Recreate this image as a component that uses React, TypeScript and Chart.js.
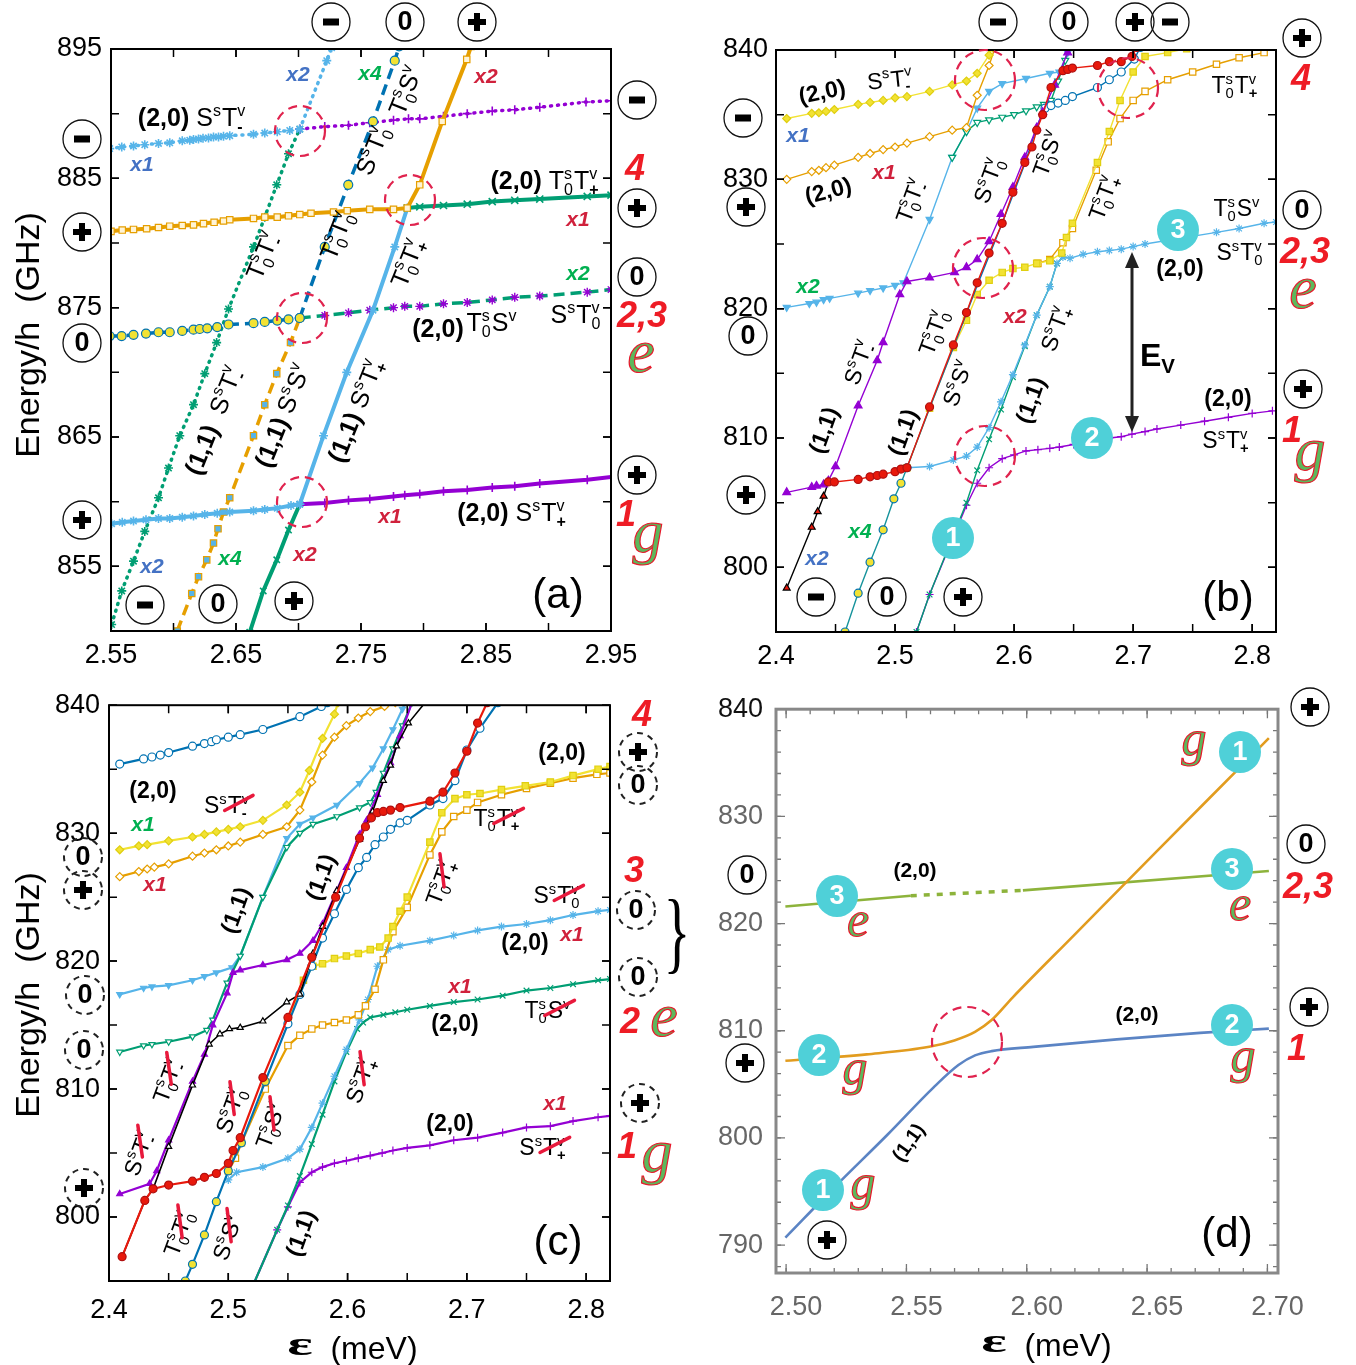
import React, { useEffect, useRef } from 'react';
import { Chart, registerables } from 'chart.js';
Chart.register(...registerables);

type P = [number, number];
const F = '"Liberation Sans", Arial, Helvetica, sans-serif';
const SERIF = '"Liberation Serif", "DejaVu Serif", serif';

// ---------- Panel (a) ----------
const aXTicks = ['2.55', '2.65', '2.75', '2.85', '2.95'];
const aYTicks = ['855', '865', '875', '885', '895'];
const aSTm_x1: P[] = [[2.549,887.3],[2.5586,887.43],[2.568,887.5],[2.577,887.6],[2.588,887.7],[2.597,887.75],[2.607,887.9],[2.613,887.95],[2.616,888.0],[2.62,888.05],[2.6236,888.1],[2.628,888.12],[2.632,888.2],[2.636,888.2],[2.64,888.25],[2.645,888.3],[2.664,888.4],[2.673,888.5],[2.683,888.6],[2.693,888.7],[2.701,888.8]];
const aSTm_hi: P[] = [[2.701,888.8],[2.721,889.0],[2.74,889.1],[2.757,889.3],[2.776,889.5],[2.788,889.6],[2.797,889.6],[2.816,889.8],[2.835,890.0],[2.855,890.2],[2.873,890.3],[2.893,890.5],[2.93,890.9],[2.95,891.0]];
const aSTm_x2: P[] = [[2.701,888.8],[2.7226,894.1],[2.7265,895.1]];
const aSTm_11: P[] = [[2.5505,850.5],[2.5586,853.1],[2.568,855.4],[2.577,857.7],[2.588,860.3],[2.596,862.6],[2.605,865.1],[2.616,867.5],[2.625,869.9],[2.6345,872.3],[2.644,874.9],[2.664,879.7],[2.673,882.0],[2.6826,884.5],[2.692,886.9],[2.701,888.8]];
const aT0Tp_20: P[] = [[2.55,880.9],[2.559,881.0],[2.568,881.05],[2.5785,881.1],[2.588,881.2],[2.597,881.3],[2.607,881.35],[2.616,881.4],[2.624,881.5],[2.6325,881.6],[2.64,881.7],[2.645,881.8],[2.664,881.9],[2.673,882.0],[2.683,882.0],[2.692,882.1],[2.701,882.2],[2.71,882.3],[2.728,882.4],[2.739,882.5],[2.757,882.6],[2.776,882.6],[2.787,882.7],[2.797,884.5],[2.815,889.4],[2.8346,894.2],[2.838,895.2]];
const aT0Tp_hi: P[] = [[2.787,882.7],[2.797,882.8],[2.816,882.9],[2.835,883.0],[2.855,883.2],[2.873,883.3],[2.893,883.4],[2.931,883.6],[2.95,883.7]];
const aT0Tp_11: P[] = [[2.701,859.8],[2.72,865.1],[2.7386,870.0],[2.7596,874.8],[2.777,879.7],[2.787,882.7]];
const aSTp_x1: P[] = [[2.5505,858.3],[2.559,858.4],[2.568,858.5],[2.578,858.6],[2.588,858.7],[2.597,858.7],[2.607,858.8],[2.616,858.9],[2.625,859.0],[2.635,859.1],[2.645,859.2],[2.664,859.3],[2.673,859.4],[2.683,859.5],[2.694,859.7],[2.701,859.8]];
const aSTp_hi: P[] = [[2.701,859.8],[2.721,859.9],[2.74,860.1],[2.757,860.2],[2.776,860.4],[2.785,860.5],[2.797,860.6],[2.816,860.8],[2.835,860.9],[2.855,861.1],[2.873,861.2],[2.893,861.4],[2.931,861.7],[2.95,861.9]];
const aSTp_x2: P[] = [[2.661,849.9],[2.6718,853.1],[2.6826,855.5],[2.692,857.8],[2.701,859.8]];
const aT0S_20: P[] = [[2.549,872.8],[2.5585,872.8],[2.568,872.9],[2.578,873.0],[2.588,873.1],[2.597,873.1],[2.607,873.2],[2.616,873.3],[2.621,873.35],[2.627,873.4],[2.635,873.5],[2.644,873.7],[2.664,873.8],[2.673,873.9],[2.683,874.0],[2.692,874.1],[2.701,874.2]];
const aT0S_hi: P[] = [[2.701,874.2],[2.721,874.4],[2.74,874.6],[2.757,874.8],[2.776,875.0],[2.785,875.1],[2.797,875.1],[2.816,875.3],[2.835,875.4],[2.855,875.6],[2.873,875.8],[2.893,875.9],[2.931,876.2],[2.95,876.4]];
const aT0S_x4: P[] = [[2.701,874.2],[2.721,879.7],[2.7398,884.5],[2.7596,889.4],[2.777,894.1],[2.7805,895.2]];
const aSS_11: P[] = [[2.603,850.0],[2.6146,852.9],[2.62,854.2],[2.6266,855.5],[2.632,856.8],[2.6356,857.9],[2.64,859.2],[2.645,860.3],[2.664,865.1],[2.673,867.5],[2.6826,869.9],[2.6936,872.3],[2.701,874.2]];

// ---------- Panel (b) ----------
const bXTicks = ['2.4', '2.5', '2.6', '2.7', '2.8'];
const bYTicks = ['800', '810', '820', '830', '840'];
const bSTm_20: P[] = [[2.409,834.7],[2.43,835.1],[2.436,835.15],[2.442,835.25],[2.449,835.4],[2.469,835.8],[2.479,835.95],[2.49,836.1],[2.5,836.3],[2.51,836.4],[2.529,836.8],[2.548,837.3],[2.56,837.6],[2.569,838.2],[2.579,839.6],[2.582,840.2]];
const bT0Tm_20: P[] = [[2.409,830.0],[2.43,830.6],[2.436,830.7],[2.442,830.9],[2.449,831.1],[2.469,831.7],[2.479,832.0],[2.49,832.3],[2.5,832.5],[2.51,832.8],[2.529,833.3],[2.548,833.8],[2.56,834.0],[2.569,836.5],[2.579,838.8],[2.584,840.2]];
const bT0Tm_x2: P[] = [[2.409,820.1],[2.428,820.4],[2.434,820.5],[2.44,820.7],[2.445,820.8],[2.469,821.2],[2.479,821.4],[2.49,821.6],[2.5,821.8],[2.507,822.0],[2.529,826.9],[2.548,831.7],[2.56,833.7],[2.569,835.5],[2.579,836.8],[2.59,837.4],[2.61,837.8],[2.63,838.2],[2.638,838.3],[2.645,839.8],[2.646,840.2]];
const bT0Tm_hi: P[] = [[2.548,831.7],[2.56,833.7],[2.569,834.4],[2.579,834.6],[2.59,834.8],[2.6,835.0],[2.61,835.3],[2.619,835.6],[2.625,835.8],[2.631,836.1],[2.637,837.6],[2.643,839.2],[2.646,840.2]];
const bSTm_11: P[] = [[2.409,805.8],[2.43,806.2],[2.434,806.3],[2.44,806.4],[2.444,806.7],[2.45,807.8],[2.469,812.5],[2.485,816.0],[2.49,817.4],[2.504,821.1],[2.51,822.1],[2.529,822.4],[2.55,822.8],[2.56,823.2],[2.569,823.8],[2.579,825.2],[2.589,827.3],[2.599,829.4],[2.609,831.7],[2.619,834.0],[2.624,835.2],[2.634,837.3],[2.645,839.8],[2.647,840.2]];
const bSTm_x2: P[] = [[2.409,798.4],[2.43,803.1],[2.435,804.3],[2.44,805.5],[2.444,806.6]];
const bST0_11: P[] = [[2.444,806.6],[2.449,806.6],[2.469,806.8],[2.479,807.0],[2.485,807.1],[2.49,807.2],[2.5,807.4],[2.505,807.6],[2.51,807.7],[2.529,812.4],[2.549,817.2],[2.56,819.7],[2.569,822.0],[2.579,824.3],[2.59,826.6],[2.599,829.0],[2.609,831.3],[2.615,832.5],[2.619,833.8],[2.624,835.0],[2.631,837.1],[2.641,838.4],[2.645,838.5],[2.649,838.6],[2.67,838.8],[2.68,839.1],[2.69,839.1],[2.699,839.5],[2.703,840.2]];
const bT0S_x4: P[] = [[2.458,795.0],[2.469,798.0],[2.479,800.4],[2.49,802.9],[2.499,805.3],[2.505,806.5],[2.51,807.7]];
const bT0S_11: P[] = [[2.51,807.7],[2.529,812.3],[2.549,817.0],[2.569,821.8],[2.59,826.6],[2.609,831.2],[2.62,834.3],[2.626,835.5]];
const bT0S_hi: P[] = [[2.626,835.5],[2.631,835.7],[2.637,835.9],[2.643,836.1],[2.649,836.4],[2.67,837.1],[2.68,837.7],[2.69,838.3],[2.701,839.3],[2.706,840.2]];
const bT0Tp_11: P[] = [[2.51,807.7],[2.529,812.3],[2.549,817.0],[2.56,819.1],[2.569,821.1],[2.579,822.2],[2.59,822.8],[2.599,823.1],[2.609,823.2],[2.619,823.5],[2.63,823.7],[2.64,824.3],[2.644,825.5],[2.649,826.6],[2.67,831.3],[2.68,833.7],[2.689,836.1],[2.7,838.3],[2.71,839.5],[2.729,839.8],[2.745,840.1]];
const bT0Tp_20: P[] = [[2.62,823.5],[2.63,823.8],[2.641,825.1],[2.649,826.2],[2.669,830.7],[2.679,832.9],[2.689,834.7],[2.7,836.1],[2.71,836.8],[2.729,837.7],[2.75,838.3],[2.77,838.9],[2.789,839.4],[2.81,839.8]];
const bT0S_20: P[] = [[2.51,807.7],[2.529,807.8],[2.549,808.3],[2.56,808.6],[2.569,809.3],[2.579,810.8],[2.589,812.8],[2.599,814.9],[2.609,817.2],[2.619,819.5],[2.63,821.7],[2.636,823.5],[2.641,824.0],[2.647,823.9],[2.658,824.2],[2.67,824.4],[2.68,824.5],[2.69,824.6],[2.7,824.8],[2.71,825.0],[2.77,825.9],[2.789,826.2],[2.81,826.6],[2.82,826.7]];
const bSTp_x2: P[] = [[2.518,795.0],[2.529,797.9],[2.56,805.0],[2.569,807.5],[2.579,809.9],[2.589,812.2],[2.599,814.7],[2.609,817.1],[2.619,819.5],[2.63,821.7],[2.636,823.5],[2.641,824.0]];
const bSTp_20: P[] = [[2.518,795.0],[2.529,797.9],[2.56,804.8],[2.569,806.5],[2.579,807.7],[2.59,808.4],[2.6,808.7],[2.61,809.0],[2.62,809.1],[2.63,809.2],[2.638,809.3],[2.65,809.5],[2.66,809.6],[2.67,809.8],[2.68,810.0],[2.69,810.1],[2.699,810.3],[2.71,810.5],[2.72,810.7],[2.74,811.0],[2.76,811.3],[2.78,811.6],[2.8,811.9],[2.817,812.1]];

// ---------- Panel (c) ----------
const cXTicks = ['2.4', '2.5', '2.6', '2.7', '2.8'];
const cYTicks = ['800', '810', '820', '830', '840'];
const cTop_blue: P[] = [[2.409,835.4],[2.429,835.8],[2.436,835.95],[2.443,836.1],[2.45,836.3],[2.47,836.8],[2.48,837.0],[2.486,837.15],[2.49,837.3],[2.5,837.5],[2.51,837.7],[2.529,838.1],[2.56,839.1],[2.578,839.9],[2.583,840.2]];
const cSTm_yel: P[] = [[2.409,828.7],[2.425,829.0],[2.432,829.1],[2.45,829.4],[2.47,829.7],[2.48,829.9],[2.49,830.1],[2.5,830.3],[2.51,830.5],[2.529,831.0],[2.549,832.2],[2.56,833.2],[2.568,834.9],[2.579,837.4],[2.589,839.3],[2.592,840.2]];
const cSTm_or: P[] = [[2.409,826.6],[2.425,827.0],[2.432,827.2],[2.438,827.35],[2.45,827.6],[2.47,828.2],[2.48,828.45],[2.49,828.7],[2.5,829.0],[2.51,829.3],[2.529,829.9],[2.549,830.5],[2.56,831.8],[2.57,834.0],[2.579,836.1],[2.589,837.5],[2.599,838.4],[2.609,839.0],[2.619,839.5],[2.631,839.9],[2.64,840.2]];
const cT0Tm_lb: P[] = [[2.409,817.4],[2.429,817.9],[2.436,818.0],[2.45,818.1],[2.47,818.5],[2.48,818.8],[2.49,819.1],[2.503,819.5],[2.51,820.4],[2.529,825.0],[2.549,829.6],[2.56,830.7],[2.571,831.2],[2.591,832.2],[2.61,833.9],[2.621,835.1],[2.63,836.6],[2.638,838.1],[2.646,839.7],[2.648,840.2]];
const cT0Tm_gr: P[] = [[2.409,812.9],[2.429,813.4],[2.436,813.5],[2.45,813.7],[2.47,814.1],[2.482,814.6],[2.487,815.4],[2.499,818.3],[2.51,820.4],[2.529,825.0],[2.549,828.9],[2.56,830.0],[2.571,830.7],[2.591,831.3],[2.61,832.0],[2.619,832.4],[2.624,833.2],[2.63,834.7],[2.638,836.6],[2.646,838.4],[2.654,840.2]];
const cSTm_pu: P[] = [[2.409,801.8],[2.434,802.6],[2.44,803.6],[2.45,806.0],[2.47,810.6],[2.48,812.7],[2.487,815.0],[2.499,817.5],[2.504,819.1],[2.51,819.3],[2.529,819.7],[2.549,820.1],[2.56,820.6],[2.571,821.6],[2.579,822.9],[2.591,825.5],[2.599,827.3],[2.61,829.9],[2.616,831.0],[2.625,833.0],[2.636,835.5],[2.644,837.6],[2.654,840.2]];
const cT0T0_bk: P[] = [[2.411,796.9],[2.43,801.3],[2.437,802.2],[2.45,805.5],[2.47,810.3],[2.484,813.5],[2.493,814.3],[2.501,814.7],[2.51,814.8],[2.529,815.3],[2.549,816.8],[2.56,817.4],[2.571,820.6],[2.579,822.7],[2.591,825.5],[2.61,829.5],[2.621,831.7],[2.63,834.1],[2.636,835.3],[2.641,836.8],[2.651,838.6],[2.665,840.2]];
const cST0_rd: P[] = [[2.411,796.9],[2.43,801.3],[2.437,802.2],[2.45,802.5],[2.47,802.8],[2.48,803.1],[2.49,803.4],[2.5,804.2],[2.504,805.2],[2.51,806.2],[2.529,810.9],[2.55,815.6],[2.57,820.3],[2.59,825.0],[2.61,829.6],[2.615,830.5],[2.62,831.2],[2.625,831.6],[2.63,831.7],[2.636,831.8],[2.644,832.0],[2.669,832.5],[2.68,833.2],[2.69,834.7],[2.7,836.4],[2.709,838.6],[2.717,840.2]];
const cT0S_bl: P[] = [[2.464,795.0],[2.47,796.3],[2.48,798.6],[2.49,801.2],[2.5,803.6],[2.511,805.8],[2.531,810.6],[2.55,815.1],[2.56,817.4],[2.57,819.6],[2.579,821.8],[2.589,823.7],[2.599,825.6],[2.609,827.3],[2.616,828.1],[2.623,829.1],[2.63,829.7],[2.636,830.3],[2.644,830.8],[2.65,831.0],[2.669,832.2],[2.68,832.7],[2.69,834.1],[2.7,836.5],[2.711,838.2],[2.726,840.2]];
const cT0Tp_yel: P[] = [[2.55,815.4],[2.563,818.5],[2.571,819.6],[2.579,819.8],[2.589,820.2],[2.599,820.4],[2.609,820.6],[2.619,820.9],[2.627,821.1],[2.634,821.8],[2.638,822.7],[2.644,823.9],[2.65,825.0],[2.669,829.3],[2.679,831.6],[2.69,832.7],[2.7,833.0],[2.711,833.1],[2.729,833.4],[2.749,833.7],[2.77,834.0],[2.789,834.5],[2.81,835.0],[2.82,835.2]];
const cT0Tp_or: P[] = [[2.5,803.6],[2.506,804.6],[2.511,805.8],[2.531,810.0],[2.55,813.4],[2.56,814.2],[2.57,814.7],[2.579,815.0],[2.589,815.2],[2.599,815.4],[2.609,815.8],[2.615,816.5],[2.623,817.8],[2.63,820.1],[2.638,822.3],[2.65,824.2],[2.669,828.3],[2.679,830.1],[2.689,831.3],[2.7,831.8],[2.709,832.4],[2.729,833.0],[2.75,833.5],[2.77,833.9],[2.789,834.3],[2.809,834.6],[2.82,834.7]];
const cST0_lb: P[] = [[2.5,802.9],[2.507,803.5],[2.529,803.9],[2.55,804.6],[2.56,805.3],[2.57,807.0],[2.579,808.9],[2.589,811.0],[2.599,813.1],[2.61,815.4],[2.617,817.0],[2.625,819.6],[2.634,820.9],[2.644,821.2],[2.669,821.6],[2.689,822.0],[2.709,822.4],[2.729,822.7],[2.75,822.9],[2.77,823.2],[2.789,823.6],[2.81,823.9],[2.82,824.0]];
const cT0S_gr: P[] = [[2.52,794.5],[2.541,799.0],[2.55,800.9],[2.56,803.2],[2.57,805.7],[2.579,808.0],[2.589,810.6],[2.599,812.9],[2.608,814.7],[2.613,815.2],[2.619,815.6],[2.63,815.8],[2.64,816.0],[2.65,816.2],[2.669,816.5],[2.689,816.8],[2.709,817.0],[2.73,817.3],[2.75,817.7],[2.77,817.9],[2.789,818.2],[2.81,818.5],[2.82,818.6]];
const cSTp_pu: P[] = [[2.52,794.5],[2.541,799.0],[2.55,800.8],[2.56,802.7],[2.57,803.5],[2.579,803.9],[2.589,804.2],[2.599,804.4],[2.609,804.6],[2.619,804.8],[2.629,805.0],[2.638,805.2],[2.65,805.4],[2.669,805.6],[2.689,806.0],[2.709,806.2],[2.73,806.6],[2.75,807.0],[2.77,807.1],[2.789,807.5],[2.81,807.8],[2.82,807.9]];

// ---------- Panel (d) ----------
const dXTicks = ['2.50', '2.55', '2.60', '2.65', '2.70'];
const dYTicks = ['790', '800', '810', '820', '830', '840'];
const dLower: P[] = [[2.4997,790.7],[2.5214,795.7],[2.5421,800.3],[2.5612,804.7],[2.5716,806.8],[2.5785,807.7],[2.5854,808.1],[2.6027,808.5],[2.6374,809.2],[2.672,809.8],[2.7006,810.2]];
const dUpper: P[] = [[2.4997,807.2],[2.5335,807.8],[2.5595,808.5],[2.5699,809.1],[2.5785,809.9],[2.5854,811.0],[2.5941,813.1],[2.62,819.0],[2.6547,826.9],[2.6887,834.6],[2.7006,837.3]];
const dThreeA: P[] = [[2.4997,821.6],[2.5518,822.6]];
const dThreeB: P[] = [[2.5518,822.6],[2.5984,823.1]];
const dThreeC: P[] = [[2.5984,823.1],[2.7006,824.9]];

// ---------- styles ----------
const LB = '#56b4e9', PU = '#9400d3', OR = '#e69f00', GR = '#009e73', YE = '#f2e233', BL = '#0072b2', RD = '#e8190c', TE = '#16939c';
const XB = '#4472c4', XG = '#00b050', XR = '#d0213c';
const W = '#ffffff';

function mk(data: P[], s: any) {
  return {
    data: data.map(([x, y]) => ({ x, y })),
    showLine: true,
    borderColor: s.c,
    backgroundColor: s.c,
    borderWidth: s.w ?? 1.4,
    borderDash: s.dash ?? [],
    borderCapStyle: s.cap ?? 'butt',
    pointStyle: s.ps ?? 'circle',
    pointRadius: s.r ?? 3.5,
    pointBackgroundColor: s.bg ?? s.c,
    pointBorderColor: s.pb ?? s.c,
    pointBorderWidth: s.pbw ?? 1.2,
    pointRotation: s.rot ?? 0,
    cubicInterpolationMode: s.smooth ? 'monotone' : 'default',
    tension: s.smooth ? 0.4 : 0,
    fill: false,
  };
}
const DOT = [1, 6];
const DASH = [11, 6];

const aSets = [
  mk(aT0Tp_20, { c: OR, w: 4, ps: 'rect', r: 4.5, bg: '#fff4d6', pb: OR }),
  mk(aT0Tp_hi, { c: GR, w: 4, ps: 'crossRot', r: 5, pbw: 1.6 }),
  mk(aT0Tp_11, { c: LB, w: 4, ps: 'star', r: 4.5, pbw: 1.6 }),
  mk(aSTp_x1, { c: LB, w: 4, ps: 'star', r: 4.5, pbw: 1.6 }),
  mk(aSTp_hi, { c: PU, w: 4, ps: 'cross', r: 4.5, pbw: 1.6 }),
  mk(aSTp_x2, { c: GR, w: 4, ps: 'crossRot', r: 4.5, pbw: 1.6 }),
  mk(aT0S_20, { c: BL, w: 3.5, dash: DASH, ps: 'circle', r: 4.5, bg: YE, pb: BL }),
  mk(aT0S_hi, { c: GR, w: 3.5, dash: DASH, ps: 'star', r: 4.5, pb: PU, pbw: 1.4 }),
  mk(aT0S_x4, { c: BL, w: 3.5, dash: DASH, ps: 'circle', r: 4.5, bg: YE, pb: BL }),
  mk(aSS_11, { c: OR, w: 3.5, dash: DASH, ps: 'rect', r: 4.5, bg: LB, pb: OR }),
  mk(aSTm_x1, { c: LB, w: 3.5, dash: DOT, cap: 'round', ps: 'star', r: 4.5, pbw: 1.6 }),
  mk(aSTm_hi, { c: PU, w: 3.5, dash: DOT, cap: 'round', ps: 'cross', r: 4.5, pbw: 1.6 }),
  mk(aSTm_x2, { c: LB, w: 3.5, dash: DOT, cap: 'round', ps: 'star', r: 4.5, pbw: 1.6 }),
  mk(aSTm_11, { c: GR, w: 3.5, dash: DOT, cap: 'round', ps: 'star', r: 4.5, pb: GR, pbw: 1.6 }),
];

const bSets = [
  mk(bST0_11, { c: RD, ps: 'circle', r: 4, bg: RD, pb: '#b01010' }),
  mk(bSTm_11, { c: PU, ps: 'triangle', r: 4.5, bg: PU }),
  mk(bSTm_x2, { c: '#000', ps: 'triangle', r: 4, bg: RD, pb: '#000' }),
  mk(bT0S_x4, { c: TE, ps: 'circle', r: 4, bg: YE, pb: BL }),
  mk(bT0S_11, { c: BL, r: 0 }),
  mk(bT0S_hi, { c: BL, ps: 'circle', r: 4, bg: W, pb: BL }),
  mk(bT0Tp_11, { c: YE, ps: 'rect', r: 4.5, bg: YE, pb: '#e0cf10' }),
  mk(bT0Tp_20, { c: OR, ps: 'rect', r: 4.5, bg: W, pb: OR }),
  mk(bSTm_20, { c: YE, ps: 'rectRot', r: 4, bg: YE, pb: '#e0cf10' }),
  mk(bT0Tm_20, { c: OR, ps: 'rectRot', r: 4, bg: W, pb: OR }),
  mk(bT0Tm_hi, { c: GR, ps: 'triangle', rot: 180, r: 4, bg: W, pb: GR }),
  mk(bT0Tm_x2, { c: LB, ps: 'triangle', rot: 180, r: 4, bg: LB }),
  mk(bT0S_20, { c: LB, ps: 'star', r: 4 }),
  mk(bSTp_x2, { c: GR, ps: 'crossRot', r: 4 }),
  mk(bSTp_20, { c: PU, ps: 'cross', r: 4 }),
];

const CW = 2.2;
const cSets = [
  mk(cST0_rd, { c: RD, w: CW, ps: 'circle', r: 4, bg: RD, pb: '#b01010' }),
  mk(cT0T0_bk, { c: '#000', w: 1.6, ps: 'triangle', r: 3.5, bg: (ctx: any) => (ctx.dataIndex < 2 ? RD : W), pb: '#000' }),
  mk(cSTm_pu, { c: PU, w: CW, ps: 'triangle', r: 3.5, bg: PU }),
  mk(cT0S_bl, { c: BL, w: CW, ps: 'circle', r: 4, bg: (ctx: any) => (ctx.dataIndex < 7 ? YE : W), pb: BL }),
  mk(cT0Tp_yel, { c: YE, w: CW, ps: 'rect', r: 4.5, bg: YE, pb: '#e0cf10' }),
  mk(cT0Tp_or, { c: OR, w: CW, ps: 'rect', r: 4.5, bg: W, pb: OR }),
  mk(cTop_blue, { c: BL, w: CW, ps: 'circle', r: 4, bg: W, pb: BL }),
  mk(cSTm_yel, { c: YE, w: CW, ps: 'rectRot', r: 4, bg: YE, pb: '#e0cf10' }),
  mk(cSTm_or, { c: OR, w: CW, ps: 'rectRot', r: 4, bg: W, pb: OR }),
  mk(cT0Tm_gr, { c: GR, w: CW, ps: 'triangle', rot: 180, r: 3.5, bg: W, pb: GR }),
  mk(cT0Tm_lb, { c: LB, w: CW, ps: 'triangle', rot: 180, r: 3.5, bg: LB }),
  mk(cST0_lb, { c: LB, w: CW, ps: 'star', r: 4 }),
  mk(cT0S_gr, { c: GR, w: CW, ps: 'crossRot', r: 4 }),
  mk(cSTp_pu, { c: PU, w: CW, ps: 'cross', r: 4 }),
];

const dSets = [
  mk(dLower, { c: '#5b84c4', w: 2.6, r: 0, smooth: true }),
  mk(dUpper, { c: '#e29c1f', w: 2.6, r: 0, smooth: true }),
  mk(dThreeA, { c: '#8db33b', w: 2.6, r: 0 }),
  mk(dThreeB, { c: '#8db33b', w: 3.5, r: 0, dash: [6, 7] }),
  mk(dThreeC, { c: '#8db33b', w: 2.6, r: 0 }),
];

// ---------- annotations (page pixel positions) ----------
const xt = (x: number, y: number, s: string, color: string) => ({ k: 't', x, y, s, size: 21, color, italic: true, bold: true });
const tx = (x: number, y: number, s: string, size = 24, rot = 0) => ({ k: 't', x, y, s, size, rot });

const annA: any[] = [
  { k: 't', x: 27, y: 335, s: 'Energy/h  (GHz)', size: 34, rot: -90 },
  { k: 'c', x: 331, y: 22, s: '-' }, { k: 'c', x: 405, y: 22, s: '0' }, { k: 'c', x: 477, y: 22, s: '+' },
  { k: 'c', x: 82, y: 139, s: '-' }, { k: 'c', x: 82, y: 232, s: '+' }, { k: 'c', x: 82, y: 343, s: '0' }, { k: 'c', x: 82, y: 520, s: '+' },
  { k: 'c', x: 637, y: 100, s: '-' }, { k: 'c', x: 637, y: 208, s: '+' }, { k: 'c', x: 637, y: 277, s: '0' }, { k: 'c', x: 637, y: 475, s: '+' },
  { k: 'c', x: 145, y: 605, s: '-' }, { k: 'c', x: 218, y: 604, s: '0' }, { k: 'c', x: 294, y: 601, s: '+' },
  { k: 'q', x: 635, y: 170, s: '4' }, { k: 'q', x: 642, y: 317, s: '2,3' }, { k: 'q', x: 626, y: 516, s: '1' },
  { k: 'l', x: 641, y: 358, s: 'e', size: 62 }, { k: 'l', x: 648, y: 546, s: 'g', size: 62 },
  { k: 'r', x: 300, y: 131, r: 25 }, { k: 'r', x: 410, y: 200, r: 25 }, { k: 'r', x: 302, y: 318, r: 25 }, { k: 'r', x: 302, y: 502, r: 25 },
  xt(298, 73, 'x2', XB), xt(370, 72, 'x4', XG), xt(486, 75, 'x2', XR),
  tx(405, 90, 'T_0^sS^v', 25, -68),
  tx(192, 117, '*(2,0)* S^sT^v_-', 25),
  xt(142, 163, 'x1', XB),
  tx(372, 150, 'S^sT_0^v', 25, -68),
  tx(545, 180, '*(2,0)* T_0^sT^v_+', 25),
  xt(578, 218, 'x1', XR),
  tx(262, 255, 'T_0^sT^v_-', 25, -68),
  tx(336, 235, 'T_0^sT_0^v', 25, -68),
  tx(407, 262, 'T_0^sT^v_+', 25, -68),
  xt(578, 272, 'x2', XG),
  tx(438, 328, '*(2,0)*', 25), tx(492, 322, 'T_0^sS^v', 25), tx(576, 314, 'S^sT_0^v', 25),
  tx(213, 420, '*(1,1)*  S^sT^v_-', 25, -68),
  tx(282, 415, '*(1,1)* S^sS^v', 25, -68),
  tx(355, 410, '*(1,1)* S^sT^v_+', 25, -68),
  xt(390, 515, 'x1', XR),
  tx(512, 512, '*(2,0)* S^sT^v_+', 25),
  xt(152, 565, 'x2', XB), xt(230, 557, 'x4', XG), xt(305, 553, 'x2', XR),
  tx(558, 593, '(a)', 42),
];

const annB: any[] = [
  { k: 'c', x: 998, y: 22, s: '-' }, { k: 'c', x: 1069, y: 22, s: '0' }, { k: 'c', x: 1135, y: 22, s: '+' }, { k: 'c', x: 1170, y: 22, s: '-' },
  { k: 'c', x: 743, y: 118, s: '-' }, { k: 'c', x: 746, y: 207, s: '+' }, { k: 'c', x: 748, y: 336, s: '0' }, { k: 'c', x: 746, y: 495, s: '+' },
  { k: 'c', x: 1302, y: 38, s: '+' }, { k: 'c', x: 1302, y: 210, s: '0' }, { k: 'c', x: 1303, y: 389, s: '+' },
  { k: 'c', x: 816, y: 597, s: '-' }, { k: 'c', x: 887, y: 597, s: '0' }, { k: 'c', x: 963, y: 597, s: '+' },
  { k: 'q', x: 1301, y: 80, s: '4' }, { k: 'q', x: 1305, y: 253, s: '2,3' }, { k: 'q', x: 1292, y: 432, s: '1' },
  { k: 'l', x: 1303, y: 294, s: 'e', size: 62 }, { k: 'l', x: 1310, y: 464, s: 'g', size: 62 },
  { k: 'n', x: 1178, y: 230, s: '3' }, { k: 'n', x: 1092, y: 438, s: '2' }, { k: 'n', x: 953, y: 538, s: '1' },
  { k: 'r', x: 985, y: 80, r: 30 }, { k: 'r', x: 1128, y: 88, r: 30 }, { k: 'r', x: 983, y: 268, r: 30 }, { k: 'r', x: 985, y: 456, r: 30 },
  { k: 'a', x: 1132, y1: 252, y2: 432 },
  tx(822, 91, '*(2,0)*', 23, -12), tx(890, 79, 'S^sT^v_-', 23, -6),
  xt(798, 134, 'x1', XB),
  tx(828, 190, '*(2,0)*', 23, -15), xt(884, 171, 'x1', XR),
  tx(910, 200, 'T_0^sT^v_-', 23, -70),
  tx(988, 180, 'S^sT_0^v', 23, -70),
  tx(1047, 153, 'T_0^sS^v', 23, -70),
  tx(1103, 197, 'T_0^sT^v_+', 23, -70),
  tx(1235, 85, 'T_0^sT^v_+', 23),
  tx(1237, 208, 'T_0^sS^v', 23),
  tx(1180, 268, '*(2,0)*', 23), tx(1240, 252, 'S^sT_0^v', 23),
  xt(808, 285, 'x2', XG),
  xt(1015, 315, 'x2', XR),
  tx(858, 362, 'S^sT^v_-', 23, -70),
  tx(823, 430, '*(1,1)*', 23, -70),
  tx(933, 332, 'T_0^sT_0^v', 23, -70),
  tx(902, 432, '*(1,1)*', 23, -70),
  tx(957, 383, 'S^sS^v', 23, -70),
  tx(1055, 328, 'S^sT^v_+', 23, -70),
  tx(1030, 400, '*(1,1)*', 23, -70),
  { k: 't', x: 1158, y: 354, s: 'E_V', size: 32, bold: true },
  tx(1228, 398, '*(2,0)*', 23), tx(1226, 440, 'S^sT^v_+', 23),
  xt(860, 530, 'x4', XG), xt(817, 557, 'x2', XB),
  tx(1228, 596, '(b)', 42),
];

const annC: any[] = [
  { k: 't', x: 27, y: 995, s: 'Energy/h  (GHz)', size: 34, rot: -90 },
  { k: 'eps', x: 300, y: 1347 }, { k: 't', x: 374, y: 1347, s: '(meV)', size: 32 },
  { k: 'c', x: 83, y: 857, s: '0', dash: true }, { k: 'c', x: 83, y: 890, s: '+', dash: true },
  { k: 'c', x: 85, y: 995, s: '0', dash: true }, { k: 'c', x: 84, y: 1050, s: '0', dash: true }, { k: 'c', x: 84, y: 1188, s: '+', dash: true },
  { k: 'q', x: 642, y: 716, s: '4' },
  { k: 'c', x: 638, y: 752, s: '+', dash: true }, { k: 'c', x: 638, y: 785, s: '0', dash: true },
  { k: 'q', x: 634, y: 872, s: '3' },
  { k: 'c', x: 636, y: 910, s: '0', dash: true },
  { k: 'b', x: 677, y: 938 },
  { k: 'c', x: 638, y: 977, s: '0', dash: true },
  { k: 'q', x: 630, y: 1023, s: '2' }, { k: 'l', x: 664, y: 1022, s: 'e', size: 62 },
  { k: 'c', x: 640, y: 1103, s: '+', dash: true },
  { k: 'q', x: 627, y: 1148, s: '1' }, { k: 'l', x: 657, y: 1166, s: 'g', size: 62 },
  tx(153, 790, '*(2,0)*', 23), tx(227, 805, 'S^s[T^v_-]', 23),
  xt(143, 823, 'x1', XG), xt(155, 883, 'x1', XR),
  tx(235, 910, '*(1,1)*', 23, -70), tx(320, 877, '*(1,1)*', 23, -70),
  tx(562, 752, '*(2,0)*', 23),
  tx(497, 818, 'T_0^s[T^v_+]', 23),
  tx(440, 882, 'T_0^s[T^v_+]', 23, -70),
  tx(557, 895, 'S^s[T_0^v]', 23),
  tx(525, 942, '*(2,0)*', 23), xt(572, 933, 'x1', XR),
  xt(460, 985, 'x1', XR),
  tx(455, 1023, '*(2,0)*', 23), tx(548, 1010, 'T_0^s[S^v]', 23),
  xt(555, 1102, 'x1', XR),
  tx(450, 1123, '*(2,0)*', 23), tx(543, 1147, 'S^s[T^v_+]', 23),
  tx(167, 1080, 'T_0^s[T^v_-]', 23, -70),
  tx(230, 1110, 'S^s[T_0^v]', 23, -70),
  tx(270, 1125, 'T_0^s[S^v]', 23, -70),
  tx(360, 1080, 'S^s[T^v_+]', 23, -70),
  tx(138, 1153, 'S^s[T^v_-]', 23, -70),
  tx(178, 1233, 'T_0^s[T_0^v]', 23, -70),
  tx(227, 1237, 'S^s[S^v]', 23, -70),
  tx(300, 1233, '*(1,1)*', 23, -70),
  tx(558, 1240, '(c)', 42),
];

const annD: any[] = [
  { k: 'eps', x: 994, y: 1344 }, { k: 't', x: 1068, y: 1344, s: '(meV)', size: 32 },
  { k: 'c', x: 1310, y: 707, s: '+' }, { k: 'c', x: 1306, y: 844, s: '0' }, { k: 'c', x: 1309, y: 1007, s: '+' },
  { k: 'c', x: 747, y: 875, s: '0' }, { k: 'c', x: 745, y: 1063, s: '+' }, { k: 'c', x: 827, y: 1240, s: '+' },
  { k: 'q', x: 1308, y: 888, s: '2,3' }, { k: 'q', x: 1297, y: 1050, s: '1' },
  { k: 'n', x: 837, y: 896, s: '3' }, { k: 'n', x: 1232, y: 869, s: '3' }, { k: 'n', x: 1240, y: 752, s: '1' },
  { k: 'n', x: 819, y: 1055, s: '2' }, { k: 'n', x: 1232, y: 1025, s: '2' }, { k: 'n', x: 823, y: 1190, s: '1' },
  { k: 'l', x: 1194, y: 750, s: 'g', size: 50 }, { k: 'l', x: 855, y: 1079, s: 'g', size: 50 },
  { k: 'l', x: 863, y: 1194, s: 'g', size: 50 }, { k: 'l', x: 1243, y: 1067, s: 'g', size: 50 },
  { k: 'l', x: 858, y: 925, s: 'e', size: 50 }, { k: 'l', x: 1240, y: 909, s: 'e', size: 50 },
  tx(915, 869, '*(2,0)*', 21), tx(1137, 1013, '*(2,0)*', 21), tx(908, 1142, '*(1,1)*', 20, -55),
  tx(1227, 1232, '(d)', 42),
  { k: 'r', x: 967, y: 1042, r: 35 },
];

// ---------- drawing helpers ----------
function parseRich(s: string) {
  const toks: any[] = [];
  let bold = false, strike = false, i = 0;
  const grp = () => {
    if (s[i] === '{') { const j = s.indexOf('}', i); const g = s.slice(i + 1, j); i = j + 1; return g; }
    return s[i++];
  };
  while (i < s.length) {
    const c = s[i];
    if (c === '*') { bold = !bold; i++; continue; }
    if (c === '[') { strike = true; i++; continue; }
    if (c === ']') { strike = false; i++; continue; }
    if (c === '^' || c === '_') {
      i++;
      const g = grp();
      const t: any = { bold, strike };
      if (c === '^') t.sup = g; else t.sub = g;
      const n = s[i];
      if ((c === '^' && n === '_') || (c === '_' && n === '^')) {
        i++;
        const g2 = grp();
        if (n === '^') t.sup = g2; else t.sub = g2;
      }
      toks.push(t);
      continue;
    }
    toks.push({ base: c, bold, strike });
    i++;
  }
  return toks;
}

function drawRich(ctx: CanvasRenderingContext2D, a: any) {
  const size = a.size ?? 24;
  const sm = size * 0.64;
  const font = (b: boolean, sz: number) => `${a.italic ? 'italic ' : ''}${b || a.bold ? 'bold ' : ''}${sz}px ${F}`;
  const toks = parseRich(a.s);
  const ws: number[] = [];
  let Wt = 0;
  for (const t of toks) {
    let w = 0;
    if (t.base !== undefined) { ctx.font = font(t.bold, size); w = ctx.measureText(t.base).width; }
    else {
      ctx.font = font(t.bold, sm);
      w = Math.max(t.sup ? ctx.measureText(t.sup).width : 0, t.sub ? ctx.measureText(t.sub).width : 0) + 1;
    }
    ws.push(w); Wt += w;
  }
  ctx.save();
  ctx.translate(a.x, a.y);
  if (a.rot) ctx.rotate((a.rot * Math.PI) / 180);
  let x = -Wt / 2;
  const by = size * 0.36;
  ctx.fillStyle = a.color ?? '#000';
  ctx.textAlign = 'left';
  ctx.textBaseline = 'alphabetic';
  let s0: number | null = null, s1 = 0;
  toks.forEach((t: any, i: number) => {
    if (t.base !== undefined) { ctx.font = font(t.bold, size); ctx.fillText(t.base, x, by); }
    else {
      if (t.sup) { ctx.font = font(t.bold, sm); ctx.fillText(t.sup, x, by - size * 0.42); }
      if (t.sub) { ctx.font = font(t.bold || t.sub === '-' || t.sub === '+', sm); ctx.fillText(t.sub, x, by + size * 0.22); }
    }
    if (t.strike) { if (s0 === null) s0 = x; s1 = x + ws[i]; }
    x += ws[i];
  });
  if (s0 !== null) {
    ctx.strokeStyle = '#e8193c';
    ctx.lineWidth = 3.5;
    ctx.lineCap = 'round';
    ctx.beginPath();
    ctx.moveTo((s0 as number) - 3, by - size * 0.12);
    ctx.lineTo(s1 + 3, by - size * 0.78);
    ctx.stroke();
  }
  ctx.restore();
}

function drawAnn(ctx: CanvasRenderingContext2D, a: any) {
  ctx.save();
  if (a.k === 't') drawRich(ctx, a);
  else if (a.k === 'eps') {
    ctx.translate(a.x, a.y);
    ctx.scale(1.75, 1);
    ctx.font = `bold 34px ${SERIF}`;
    ctx.fillStyle = '#000'; ctx.textAlign = 'center'; ctx.textBaseline = 'alphabetic';
    ctx.fillText('ε', 0, 8);
  } else if (a.k === 'c') {
    const r = 19;
    ctx.beginPath(); ctx.arc(a.x, a.y, r, 0, Math.PI * 2);
    ctx.lineWidth = a.dash ? 2 : 1.3;
    ctx.setLineDash(a.dash ? [6, 5] : []);
    ctx.strokeStyle = a.dash ? '#222' : '#111';
    ctx.stroke(); ctx.setLineDash([]);
    ctx.fillStyle = '#000';
    if (a.s === '-') ctx.fillRect(a.x - 8, a.y - 3.5, 16, 7);
    else if (a.s === '+') { ctx.fillRect(a.x - 9, a.y - 3, 18, 6); ctx.fillRect(a.x - 3, a.y - 9, 6, 18); }
    else { ctx.font = `bold 27px ${F}`; ctx.textAlign = 'center'; ctx.textBaseline = 'middle'; ctx.fillText(a.s, a.x, a.y + 1); }
  } else if (a.k === 'n') {
    ctx.beginPath(); ctx.arc(a.x, a.y, 21, 0, Math.PI * 2);
    ctx.fillStyle = '#4fd0d8'; ctx.fill();
    ctx.fillStyle = '#fff'; ctx.font = `bold 27px ${F}`; ctx.textAlign = 'center'; ctx.textBaseline = 'middle';
    ctx.fillText(a.s, a.x, a.y + 1);
  } else if (a.k === 'r') {
    ctx.beginPath(); ctx.arc(a.x, a.y, a.r, 0, Math.PI * 2);
    ctx.setLineDash([9, 6]); ctx.lineWidth = 2.2; ctx.strokeStyle = '#e0234e'; ctx.stroke();
  } else if (a.k === 'l') {
    const size = a.size ?? 60;
    ctx.font = `italic ${size}px ${SERIF}`;
    ctx.textAlign = 'center'; ctx.textBaseline = 'alphabetic';
    const dy = a.s === 'g' ? size * 0.1 : size * 0.22;
    ctx.fillStyle = '#5cb85c'; ctx.fillText(a.s, a.x, a.y + dy);
    ctx.strokeStyle = '#e8192c'; ctx.lineWidth = 1.2; ctx.strokeText(a.s, a.x, a.y + dy);
  } else if (a.k === 'q') {
    ctx.font = `italic bold 36px ${F}`; ctx.fillStyle = '#ee1c25';
    ctx.textAlign = 'center'; ctx.textBaseline = 'middle';
    ctx.fillText(a.s, a.x, a.y);
  } else if (a.k === 'a') {
    ctx.strokeStyle = '#222'; ctx.fillStyle = '#222'; ctx.lineWidth = 3;
    ctx.beginPath(); ctx.moveTo(a.x, a.y1 + 12); ctx.lineTo(a.x, a.y2 - 12); ctx.stroke();
    ctx.beginPath(); ctx.moveTo(a.x, a.y1); ctx.lineTo(a.x - 7, a.y1 + 16); ctx.lineTo(a.x + 7, a.y1 + 16); ctx.closePath(); ctx.fill();
    ctx.beginPath(); ctx.moveTo(a.x, a.y2); ctx.lineTo(a.x - 7, a.y2 - 16); ctx.lineTo(a.x + 7, a.y2 - 16); ctx.closePath(); ctx.fill();
  } else if (a.k === 'b') {
    ctx.translate(a.x, a.y); ctx.scale(0.7, 1.15);
    ctx.font = `80px ${SERIF}`; ctx.fillStyle = '#000'; ctx.textAlign = 'center'; ctx.textBaseline = 'middle';
    ctx.fillText('}', 0, 0);
  }
  ctx.restore();
}

type Spec = any;

function decoPlugin(sp: Spec) {
  return {
    id: 'deco',
    afterDraw(chart: any) {
      const ctx: CanvasRenderingContext2D = chart.ctx;
      const { left, right, top, bottom } = chart.chartArea;
      const xs = chart.scales.x, ys = chart.scales.y;
      ctx.save();
      ctx.strokeStyle = sp.tickColor; ctx.lineWidth = sp.tickWidth;
      const xTick = (v: number, L: number) => {
        const p = xs.getPixelForValue(v);
        ctx.beginPath(); ctx.moveTo(p, bottom); ctx.lineTo(p, bottom - L); ctx.moveTo(p, top); ctx.lineTo(p, top + L); ctx.stroke();
      };
      const yTick = (v: number, L: number) => {
        const p = ys.getPixelForValue(v);
        ctx.beginPath(); ctx.moveTo(left, p); ctx.lineTo(left + L, p); ctx.moveTo(right, p); ctx.lineTo(right - L, p); ctx.stroke();
      };
      const n1 = Math.round((sp.xMax - sp.xMin) / sp.xMinor) + 2;
      const x0 = Math.ceil(sp.xMin / sp.xMinor - 1e-6) * sp.xMinor;
      for (let k = 0; k < n1; k++) { const v = x0 + k * sp.xMinor; if (v <= sp.xMax + 1e-9) xTick(v, sp.minorLen); }
      const n2 = Math.round((sp.yMax - sp.yMin) / sp.yMinor) + 2;
      const y0 = Math.ceil(sp.yMin / sp.yMinor - 1e-6) * sp.yMinor;
      for (let k = 0; k < n2; k++) { const v = y0 + k * sp.yMinor; if (v <= sp.yMax + 1e-9) yTick(v, sp.minorLen); }
      sp.xTicks.forEach((t: string) => xTick(Number(t), sp.tickLen));
      sp.yTicks.forEach((t: string) => yTick(Number(t), sp.tickLen));
      ctx.strokeStyle = sp.frameColor; ctx.lineWidth = sp.frameWidth;
      ctx.strokeRect(left, top, right - left, bottom - top);
      ctx.restore();
      ctx.save();
      ctx.translate(-sp.left, -sp.top);
      for (const a of sp.ann) drawAnn(ctx, a);
      ctx.restore();
    },
  };
}

function buildConfig(sp: Spec) {
  const xv = sp.xTicks.map(Number), yv = sp.yTicks.map(Number);
  return {
    type: 'scatter',
    data: { datasets: sp.datasets },
    options: {
      animation: false,
      responsive: false,
      maintainAspectRatio: false,
      events: [],
      layout: { padding: sp.pad },
      plugins: { legend: { display: false }, tooltip: { enabled: false }, title: { display: false } },
      scales: {
        x: {
          type: 'linear', position: 'bottom', min: sp.xMin, max: sp.xMax,
          grid: { display: false, drawTicks: false }, border: { display: false },
          ticks: {
            autoSkip: false, maxRotation: 0, minRotation: 0, padding: sp.xPad, labelOffset: sp.xOff ?? 0,
            color: sp.labelColor, font: { family: F, size: 27 },
            callback: (_v: any, i: number) => sp.xTicks[i],
          },
          afterBuildTicks: (s: any) => { s.ticks = xv.map((v: number) => ({ value: v })); },
          afterFit: (s: any) => { s.height = sp.xH; },
        },
        y: {
          type: 'linear', position: 'left', min: sp.yMin, max: sp.yMax,
          grid: { display: false, drawTicks: false }, border: { display: false },
          ticks: {
            autoSkip: false, padding: sp.yPad,
            color: sp.yLabelColor ?? sp.labelColor, font: { family: F, size: 27 },
            callback: (_v: any, i: number) => sp.yTicks[i],
          },
          afterBuildTicks: (s: any) => { s.ticks = yv.map((v: number) => ({ value: v })); },
          afterFit: (s: any) => { s.width = sp.yW; },
        },
      },
    },
    plugins: [decoPlugin(sp)],
  };
}

const common = { tickColor: '#000', tickWidth: 1.5, frameColor: '#000', frameWidth: 2, tickLen: 8, minorLen: 8, labelColor: '#000' };

const specA: Spec = {
  ...common, left: 0, top: 0, width: 690, height: 680,
  pad: { left: 0, right: 79, top: 49, bottom: 0 }, yW: 111, xH: 49, xPad: 8, yPad: 9,
  xMin: 2.55, xMax: 2.95, yMin: 850, yMax: 895, xTicks: aXTicks, yTicks: aYTicks, xMinor: 0.05, yMinor: 5,
  datasets: aSets, ann: annA,
};
const specB: Spec = {
  ...common, left: 690, top: 0, width: 666, height: 680,
  pad: { left: 0, right: 80, top: 50, bottom: 0 }, yW: 86, xH: 48, xPad: 8, yPad: 8,
  xMin: 2.4, xMax: 2.82, yMin: 795, yMax: 840, xTicks: bXTicks, yTicks: bYTicks, xMinor: 0.05, yMinor: 5,
  datasets: bSets, ann: annB,
};
const specC: Spec = {
  ...common, left: 0, top: 680, width: 690, height: 685,
  pad: { left: 0, right: 80, top: 19, bottom: 0 }, yW: 109, xH: 84, xPad: 13, yPad: 9,
  xMin: 2.4, xMax: 2.82, yMin: 795, yMax: 840, xTicks: cXTicks, yTicks: cYTicks, xMinor: 0.05, yMinor: 5,
  datasets: cSets, ann: annC,
};
const specD: Spec = {
  left: 690, top: 680, width: 666, height: 685,
  tickColor: '#777', tickWidth: 1.3, frameColor: '#888', frameWidth: 3, tickLen: 9, minorLen: 5,
  labelColor: '#666', yLabelColor: (c: any) => (c.tick && c.tick.value === 840 ? '#111' : '#666'),
  pad: { left: 0, right: 78, top: 17, bottom: 0 }, yW: 86, xH: 92, xPad: 18, yPad: 13, xOff: 10,
  xMin: 2.4958, xMax: 2.7044, yMin: 787.4, yMax: 840, xTicks: dXTicks, yTicks: dYTicks, xMinor: 0.01, yMinor: 2,
  datasets: dSets, ann: annD,
};

function Panel({ spec }: { spec: Spec }) {
  const ref = useRef<HTMLCanvasElement | null>(null);
  useEffect(() => {
    if (!ref.current) return;
    const ch = new Chart(ref.current, buildConfig(spec) as any);
    return () => ch.destroy();
  }, [spec]);
  return (
    <canvas
      ref={ref}
      width={spec.width}
      height={spec.height}
      style={{ position: 'absolute', left: spec.left, top: spec.top, width: spec.width, height: spec.height }}
    />
  );
}

export default function App() {
  return (
    <div style={{ position: 'absolute', left: 0, top: 0, width: 1356, height: 1365, background: '#fff', overflow: 'hidden' }}>
      <Panel spec={specA} />
      <Panel spec={specB} />
      <Panel spec={specC} />
      <Panel spec={specD} />
    </div>
  );
}
